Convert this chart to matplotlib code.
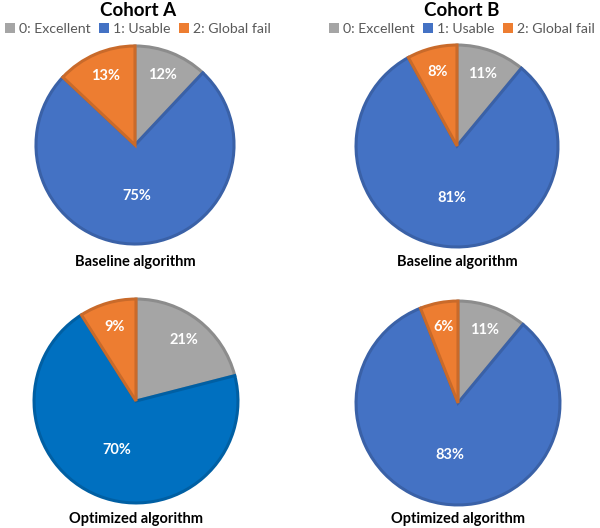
import numpy as np
import matplotlib.pyplot as plt
from matplotlib.patches import Patch

plt.rcParams['font.family'] = ['Lato', 'DejaVu Sans']

# ----------------------------------------------------------------------
# Data
# ----------------------------------------------------------------------
categories = ["0: Excellent", "1: Usable", "2: Global fail"]
cohorts = ["Cohort A", "Cohort B"]
algorithms = ["Baseline algorithm", "Optimized algorithm"]

cohort_a_baseline = [12, 75, 13]
cohort_b_baseline = [11, 81, 8]
cohort_a_optimized = [21, 70, 9]
cohort_b_optimized = [11, 83, 6]

# ----------------------------------------------------------------------
# Styling
# ----------------------------------------------------------------------
GREY, BLUE, ORANGE = "#A5A5A5", "#4472C4", "#ED7D31"
BLUE_BRIGHT = "#0070C0"

W, H = 600, 528
fig = plt.figure(figsize=(W / 100, H / 100), dpi=100)


def px_axes(cx, cy, r):
    """Square axes centred at pixel (cx, cy) with pie radius r (pixels from top-left)."""
    return fig.add_axes([(cx - r) / W, 1 - (cy + r) / H, 2 * r / W, 2 * r / H])


def darker(hex_color, f=0.85):
    c = np.array([int(hex_color[i:i + 2], 16) for i in (1, 3, 5)]) / 255.0
    return tuple(c * f)


def draw_pie(ax, values, colors, caption, caption_y):
    wedges, _, autotexts = ax.pie(
        values, colors=colors, startangle=90, counterclock=False,
        autopct=lambda p: f"{p:.0f}%", pctdistance=0.76,
        wedgeprops=dict(linewidth=2.2),
        textprops=dict(color="white", fontsize=10.5, fontweight="bold"),
    )
    for w, c in zip(wedges, colors):
        w.set_edgecolor(darker(c))
    # big wedge label sits nearer to the centre
    total = sum(values)
    for w, t, v in zip(wedges, autotexts, values):
        if v / total > 0.5:
            ang = np.deg2rad((w.theta1 + w.theta2) / 2)
            t.set_position((0.52 * np.cos(ang), 0.52 * np.sin(ang)))
    ax.set_xlim(-1.02, 1.02)
    ax.set_ylim(-1.02, 1.02)
    ax.set_aspect("equal")
    ax.axis("off")
    fig.text(ax.get_position().x0 + ax.get_position().width / 2, 1 - caption_y / H,
             caption, ha="center", va="center", fontsize=10.5, fontweight="bold")


base_colors = [GREY, BLUE, ORANGE]
opt_a_colors = [GREY, BLUE_BRIGHT, ORANGE]

draw_pie(px_axes(135, 145, 101), cohort_a_baseline, base_colors, algorithms[0], 262)
draw_pie(px_axes(457, 146, 103), cohort_b_baseline, base_colors, algorithms[0], 262)
draw_pie(px_axes(136, 401, 104), cohort_a_optimized, opt_a_colors, algorithms[1], 519)
draw_pie(px_axes(458, 403, 104), cohort_b_optimized, base_colors, algorithms[1], 519)

# Titles and legends
handles = [Patch(facecolor=c, edgecolor="none") for c in base_colors]
for name, cx in zip(cohorts, [138, 462]):
    fig.text(cx / W, 1 - 10 / H, name, ha="center", va="center",
             fontsize=13.5, fontweight="bold")
    fig.legend(handles, categories, loc="center", bbox_to_anchor=(cx / W, 1 - 29 / H),
               ncol=3, frameon=False, fontsize=10.2, handlelength=0.7, handleheight=0.7,
               handletextpad=0.3, columnspacing=0.6, labelcolor="#595959")

fig.savefig("out.png", dpi=100)
